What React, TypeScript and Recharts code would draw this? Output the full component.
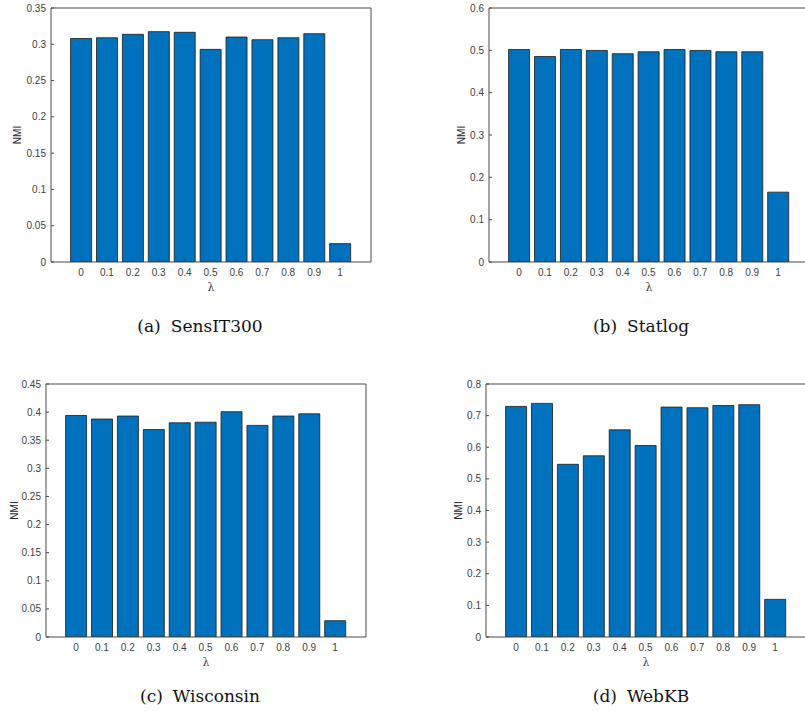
import { BarChart, Bar, XAxis, YAxis } from "recharts";

const LAMBDA = ["0", "0.1", "0.2", "0.3", "0.4", "0.5", "0.6", "0.7", "0.8", "0.9", "1"];

const SENSIT300 = [0.308, 0.309, 0.3137, 0.3174, 0.3165, 0.293, 0.31, 0.3063, 0.309, 0.3146, 0.0253];
const STATLOG = [0.502, 0.4855, 0.502, 0.4997, 0.492, 0.4966, 0.502, 0.4997, 0.4966, 0.4966, 0.165];
const WISCONSIN = [0.394, 0.3877, 0.393, 0.369, 0.381, 0.382, 0.4007, 0.3764, 0.393, 0.397, 0.029];
const WEBKB = [0.729, 0.7387, 0.546, 0.573, 0.655, 0.6055, 0.727, 0.725, 0.732, 0.7345, 0.119];

const TICKS_A = [0, 0.05, 0.1, 0.15, 0.2, 0.25, 0.3, 0.35];
const TICKS_B = [0, 0.1, 0.2, 0.3, 0.4, 0.5, 0.6];
const TICKS_C = [0, 0.05, 0.1, 0.15, 0.2, 0.25, 0.3, 0.35, 0.4, 0.45];
const TICKS_D = [0, 0.1, 0.2, 0.3, 0.4, 0.5, 0.6, 0.7, 0.8];

const BAR_FILL = "#0072BD";
const AXIS = "#4a4a4a";
const TEXT = "#404040";
const SANS = "'Liberation Sans', Arial, sans-serif";

const fmt = (v: number) => String(+v.toFixed(2));

interface PanelProps {
  values: number[];
  ticks: number[];
  left: number;
  top: number;
  plotHeight: number;
  nmiOffset: number;
}

function Panel({ values, ticks, left, top, plotHeight, nmiOffset }: PanelProps) {
  const data = LAMBDA.map((l, i) => ({ lambda: l, nmi: values[i] }));
  const max = ticks[ticks.length - 1];
  const height = plotHeight + 46;
  return (
    <div style={{ position: "absolute", left, top }}>
      <BarChart
        width={400}
        height={height}
        data={data}
        margin={{ top: 7, left: 10, right: 29, bottom: 13 }}
        barCategoryGap="10%"
      >
        <XAxis
          dataKey="lambda"
          interval={0}
          height={25}
          padding={{ left: 17, right: 18 }}
          tickSize={-3}
          tickMargin={10}
          stroke={AXIS}
          tick={{ fontSize: 10, fill: TEXT, fontFamily: SANS }}
          label={{
            content: (p: any) => {
              const vb = p.viewBox;
              return (
                <text
                  x={vb.x + vb.width / 2}
                  y={vb.y + 25}
                  textAnchor="middle"
                  dominantBaseline="central"
                  fontSize={11}
                  fontFamily="'DejaVu Serif', serif"
                  fill={TEXT}
                >
                  λ
                </text>
              );
            },
          }}
        />
        <XAxis
          xAxisId="top"
          orientation="top"
          dataKey="lambda"
          interval={0}
          height={1}
          padding={{ left: 17, right: 18 }}
          tickSize={-3}
          tick={false}
          stroke={AXIS}
        />
        <YAxis
          domain={[0, max]}
          ticks={ticks}
          interval={0}
          width={40}
          tickSize={-3}
          tickMargin={8}
          tickFormatter={fmt}
          stroke={AXIS}
          tick={{ fontSize: 10, fill: TEXT, fontFamily: SANS }}
          allowDataOverflow
          label={{
            content: (p: any) => {
              const vb = p.viewBox;
              const x = vb.x + vb.width - nmiOffset;
              const y = vb.y + vb.height / 2;
              return (
                <text
                  x={x}
                  y={y}
                  transform={`rotate(-90, ${x}, ${y})`}
                  textAnchor="middle"
                  dominantBaseline="central"
                  fontSize={10}
                  fontFamily={SANS}
                  fill="#262626"
                >
                  NMI
                </text>
              );
            },
          }}
        />
        <YAxis
          yAxisId="right"
          orientation="right"
          domain={[0, max]}
          ticks={ticks}
          interval={0}
          width={1}
          tickSize={-3}
          tick={false}
          stroke={AXIS}
          allowDataOverflow
        />
        <Bar
          dataKey="nmi"
          fill={BAR_FILL}
          stroke="#1a1a1a"
          strokeWidth={0.8}
          isAnimationActive={false}
        />
      </BarChart>
    </div>
  );
}

function Caption({ x, y, tag, name }: { x: number; y: number; tag: string; name: string }) {
  return (
    <text x={x} y={y} textAnchor="middle" fontSize={17} fontFamily="'DejaVu Serif', serif" fill="#111">
      {tag}
      <tspan dx={10}>{name}</tspan>
    </text>
  );
}

export default function App() {
  return (
    <div
      style={{
        position: "absolute",
        left: 0,
        top: 0,
        width: 805,
        height: 711,
        overflow: "hidden",
        background: "#fff",
      }}
    >
      <Panel values={SENSIT300} ticks={TICKS_A} left={1} top={0} plotHeight={254} nmiOffset={34} />
      <Panel values={STATLOG} ticks={TICKS_B} left={439} top={0} plotHeight={254} nmiOffset={28} />
      <Panel values={WISCONSIN} ticks={TICKS_C} left={-4} top={376} plotHeight={253} nmiOffset={32} />
      <Panel values={WEBKB} ticks={TICKS_D} left={436} top={376} plotHeight={253} nmiOffset={28} />
      <svg
        width={805}
        height={711}
        style={{ position: "absolute", left: 0, top: 0, pointerEvents: "none" }}
      >
        <Caption x={200} y={332} tag="(a)" name="SensIT300" />
        <Caption x={641} y={332} tag="(b)" name="Statlog" />
        <Caption x={200} y={702} tag="(c)" name="Wisconsin" />
        <Caption x={641} y={702} tag="(d)" name="WebKB" />
      </svg>
    </div>
  );
}
